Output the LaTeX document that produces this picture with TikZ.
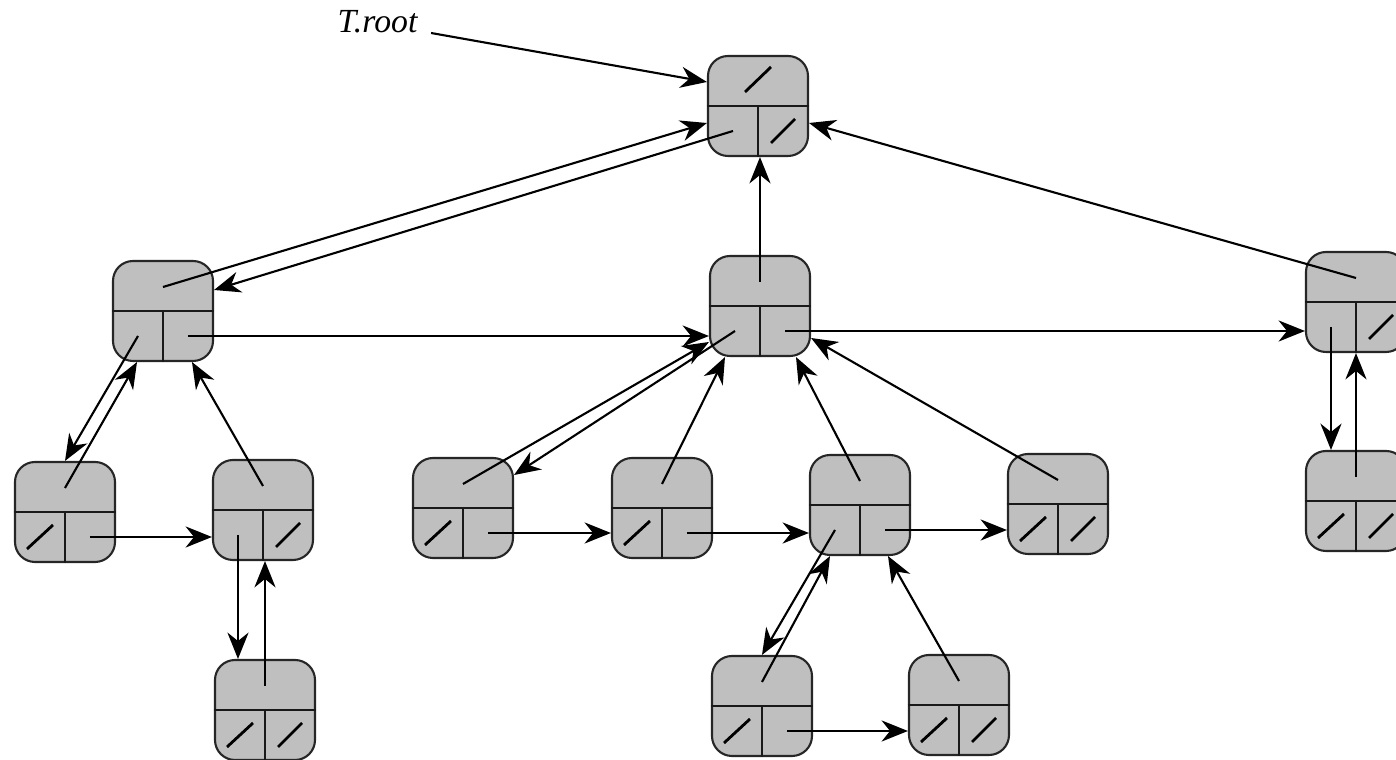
\documentclass[tikz,border=0pt]{standalone}
\usepackage{fontspec}
\setmainfont{Liberation Serif}
\usetikzlibrary{arrows.meta}
\tikzset{
  lc/.style={draw=black!85, fill=black!25, rounded corners=0.2cm, minimum width=1cm, minimum height=1cm, inner sep=0pt, line width=0.6pt},
  div/.style={draw=black!90, line width=0.6pt},
  sl/.style={draw=black, line width=0.8pt},
  ptr/.style={draw=black, line width=0.6pt, -{Stealth[length=7.5pt,width=6pt,inset=2.4pt]}},
}
\newcommand\lcnode[3]{%
  \node[lc] (#1) at (#2,#3) {};
  \draw[div] (#1.west) -- (#1.east) (#1.center) -- (#1.south);
  \coordinate (#1-p) at ([yshift=0.24cm]#1.center);
  \coordinate (#1-l) at ([shift={(-0.25,-0.25)}]#1.center);
  \coordinate (#1-r) at ([shift={(0.25,-0.25)}]#1.center);
}
\newcommand\nilp[1]{\draw[sl] ([shift={(-0.13,0.14)}]#1.center) -- ([shift={(0.13,0.39)}]#1.center);}
\newcommand\nill[1]{\draw[sl] ([shift={(-0.38,-0.37)}]#1.center) -- ([shift={(-0.12,-0.13)}]#1.center);}
\newcommand\nilr[1]{\draw[sl] ([shift={(0.13,-0.37)}]#1.center) -- ([shift={(0.37,-0.13)}]#1.center);}
\begin{document}
\begin{tikzpicture}
\path[use as bounding box, clip] (0,0) rectangle (13.96,-7.60);
% nodes
\lcnode{R}{7.58}{-1.06}
\lcnode{A}{1.63}{-3.11}
\lcnode{B}{7.60}{-3.06}
\lcnode{C}{13.56}{-3.02}
\lcnode{D}{0.65}{-5.12}
\lcnode{E}{2.63}{-5.10}
\lcnode{F}{2.65}{-7.10}
\lcnode{G}{4.63}{-5.08}
\lcnode{H}{6.62}{-5.08}
\lcnode{I}{8.60}{-5.05}
\lcnode{J}{10.58}{-5.04}
\lcnode{K}{13.56}{-5.01}
\lcnode{L}{7.62}{-7.06}
\lcnode{M}{9.59}{-7.05}
% NIL slashes
\nilp{R} \nilr{R}
\nilr{C}
\nill{D}
\nilr{E}
\nill{F} \nilr{F}
\nill{G}
\nill{H}
\nill{J} \nilr{J}
\nill{K} \nilr{K}
\nill{L}
\nill{M} \nilr{M}
% root label
\node[anchor=base west, inner sep=0pt, font=\fontsize{9.6}{11}\selectfont\itshape] (troot) at (3.37,-0.33) {T.root};
\draw[ptr] ([xshift=0.13cm]troot.base east) -- ([yshift=0.24cm]R.west);
% pointers
\draw[ptr] (A-p) -- ([yshift=-0.17cm]R.west);
\draw[ptr] (R-l) -- ([yshift=0.21cm]A.east);
\draw[ptr] (B-p) -- (B-p |- R.south);
\draw[ptr] (C-p) -- ([yshift=-0.17cm]R.east);
\draw[ptr] (A-r) -- (A-r -| B.west);
\draw[ptr] (A-l) -- (D.north);
\draw[ptr] (D-p) -- ([xshift=-0.26cm]A.south);
\draw[ptr] (E-p) -- ([xshift=0.29cm]A.south);
\draw[ptr] (D-r) -- (D-r -| E.west);
\draw[ptr] (E-l) -- (E-l |- F.north);
\draw[ptr] (F-p) -- (F-p |- E.south);
\draw[ptr] (B-l) -- ([yshift=0.33cm]G.east);
\draw[ptr] (G-p) -- ([yshift=-0.36cm]B.west);
\draw[ptr] (H-p) -- ([xshift=-0.35cm]B.south);
\draw[ptr] (I-p) -- ([xshift=0.36cm]B.south);
\draw[ptr] (J-p) -- ([yshift=-0.32cm]B.east);
\draw[ptr] (B-r) -- (B-r -| C.west);
\draw[ptr] (C-l) -- (C-l |- K.north);
\draw[ptr] (K-p) -- (K-p |- C.south);
\draw[ptr] (G-r) -- (G-r -| H.west);
\draw[ptr] (H-r) -- (H-r -| I.west);
\draw[ptr] (I-l) -- (L.north);
\draw[ptr] (L-p) -- ([xshift=-0.30cm]I.south);
\draw[ptr] (M-p) -- ([xshift=0.28cm]I.south);
\draw[ptr] (I-r) -- (I-r -| J.west);
\draw[ptr] (L-r) -- (L-r -| M.west);
\end{tikzpicture}
\end{document}
